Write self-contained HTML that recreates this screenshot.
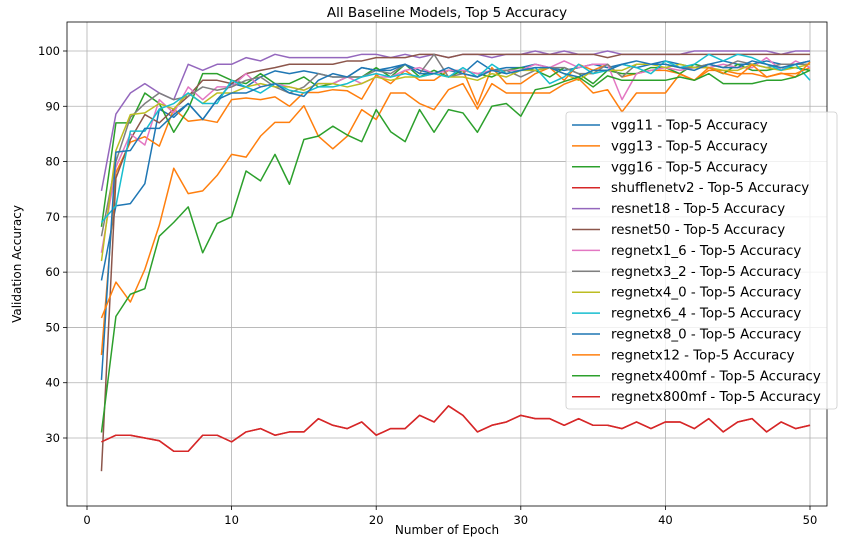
<!DOCTYPE html>
<html><head><meta charset="utf-8"><style>
body{margin:0;background:#fff;}
svg{font-family:"DejaVu Sans","Liberation Sans",sans-serif;}
</style></head><body>
<svg id="chart" width="850" height="545" xmlns="http://www.w3.org/2000/svg"></svg>
<script>
const epochs = Array.from({length:50},(_,i)=>i+1);
const seriesNames = ["vgg11","vgg13","vgg16","shufflenetv2","resnet18","resnet50","regnetx1_6","regnetx3_2","regnetx4_0","regnetx6_4","regnetx8_0","regnetx12","regnetx400mf","regnetx800mf"];
const vgg11 = [58.5,72,72.4,76,89.5,88,90.5,87.6,91.2,94.1,93.5,95.3,96.4,95.9,96.4,95.9,95.3,95.3,97,96.5,97,97.6,96.5,95.9,96.5,95.9,98.2,96.5,97,97,97.6,97,96.5,97,97.6,97,97.6,97,97.6,98.2,97.6,97,97.6,98.2,97.6,97.6,98.2,97.6,97.6,98.2];
const vgg13 = [45,78,83.5,84.5,82.8,89.5,87.3,87.6,87.1,91.2,91.5,91.2,91.7,90,92.5,92.5,93,92.8,91.3,95.7,94.1,96.5,94.7,94.7,96.5,96.5,90.3,97,94.1,94.1,95.9,97,94.7,97.6,96.5,97.6,95.3,95.9,96.5,96.5,95.9,94.7,96.5,96.5,95.9,95.9,95.3,95.9,95.9,97];
const vgg16 = [68.2,87,87,92.4,90.5,85.3,89.5,95.9,95.9,94.7,94.1,95.9,94.1,94.1,95.3,93.5,94.1,95.3,95.3,97,95.3,97.6,95.3,96.5,95.3,96.5,95.9,95.3,96.5,97,96.5,95.3,97,95.9,94.1,96.5,95.9,95.9,97,97,95.9,97.6,97,95.9,97.6,96.5,96.5,97,97,96.5];
const shufflenetv2 = [29.3,30.5,30.5,30,29.5,27.6,27.6,30.5,30.5,29.3,31.1,31.7,30.5,31.1,31.1,33.5,32.3,31.7,32.9,30.5,31.7,31.7,34.1,32.9,35.8,34.1,31.1,32.3,32.9,34.1,33.5,33.5,32.3,33.5,32.3,32.3,31.7,32.9,31.7,32.9,32.9,31.7,33.5,31.1,32.9,33.5,31.1,32.9,31.7,32.3];
const resnet18 = [74.7,88.6,92.4,94.1,92.4,91.2,97.6,96.5,97.6,97.6,98.8,98.2,99.4,98.8,98.8,98.8,98.8,98.8,99.4,99.4,98.8,99.4,98.8,99.4,98.8,99.4,99.4,98.8,99.4,99.4,100,99.4,100,99.4,99.4,100,99.4,99.4,99.4,99.4,99.4,100,100,100,100,100,100,99.4,100,100];
const resnet50 = [24,77,84,88.5,87,89.5,91.8,94.7,94.7,94.1,95.9,96.5,97,97.6,97.6,97.6,97.6,98.2,98.2,98.8,98.8,98.8,99.4,99.4,98.8,99.4,99.4,99.4,99.4,99.4,99.4,99.4,99.4,99.4,99.4,98.8,99.4,99.4,99.4,99.4,99.4,99.4,99.4,99.4,99.4,99.4,99.4,99.4,99.4,99.4];
const regnetx1_6 = [63.5,79,85,83,91.2,88.8,93.5,91.2,93.5,93.5,95.9,93.5,94.1,93.5,92.9,94.1,94.1,95.3,94.1,95.3,95.3,96.5,97,95.9,96.5,96.5,95.9,96.5,96.5,96.5,97.6,97,98.2,97,97.6,97.6,91.2,95.9,96.5,97,96.5,97,97,97.6,97,97,98.8,96.5,98.2,97];
const regnetx3_2 = [66.5,80,88,90.5,92.4,91.2,91.8,93.5,92.9,93.5,94.7,95.3,93.5,92.4,93.5,95.9,95.3,95.3,95.3,96.5,95.9,97.6,95.9,99.4,95.3,95.9,95.3,96.5,96.5,95.3,96.5,97,97,95.9,95.9,97.6,95.3,97.6,97.6,97.6,97,97,97.6,97,98.2,97.6,97,97.6,97.6,97.6];
const regnetx4_0 = [62,82,88.5,88.8,90.5,89.5,92.4,90.5,92.4,92.4,93.5,94.1,93.5,93.5,92.9,94.1,94.1,93.5,94.1,95.3,94.7,95.3,95.3,95.9,95.3,95.3,94.7,95.9,95.3,96.5,96.5,97,95.9,94.7,96.5,96.5,96.5,97.6,97.6,97,97.6,97,97,96.5,96.5,97.6,97,96.5,97,97.6];
const regnetx6_4 = [69,72,85.5,85.5,89.5,90.5,92.4,90.5,90.5,94.7,93.5,92.4,94.1,92.9,92.4,93.5,93.5,94.1,95.3,95.9,95.3,95.9,95.3,95.9,95.3,97,95.3,97.6,95.9,96.5,97,94.1,95.3,97.6,95.9,96.5,97.6,97,95.9,98.2,97,97.6,99.4,98.2,99.4,98.8,97.6,96.5,97.6,94.7];
const regnetx8_0 = [40.5,81.7,82,86,86,88.5,90.5,87.6,91.2,92.4,92.4,93.5,94.1,92.4,91.8,94.7,95.9,95.3,97,96.5,96.5,97.6,95.9,95.9,97,95.9,95.3,96.5,95.9,96.5,97,97,95.9,95.3,96.5,96.5,97.6,98.2,97.6,97.6,97,96.5,97.6,97,97,98.2,97.6,97,97.6,98.2];
const regnetx12 = [51.7,58.2,54.6,60.5,68.5,78.8,74.2,74.7,77.5,81.3,80.8,84.6,87.1,87.1,90.1,84.6,82.3,84.6,89.4,87.6,92.4,92.4,90.5,89.4,93,94.1,89.5,94.1,92.4,92.4,92.4,92.4,94,95,92.4,93,89,92.4,92.4,92.4,95.8,94.7,97,96,95.3,97.5,95.3,96,95.3,98];
const regnetx400mf = [31,52,56,57,66.5,69,71.8,63.5,68.8,70,78.3,76.5,81.3,75.9,84,84.6,86.4,84.8,83.6,89.4,85.4,83.6,89.4,85.3,89.4,88.8,85.3,90,90.5,88.2,93,93.5,94.5,95.3,93.5,95.5,94.7,94.7,94.7,94.7,95.3,94.7,95.9,94.1,94.1,94.1,94.7,94.7,95.3,96.5];
const regnetx800mf = [29.3,30.5,30.5,30,29.5,27.6,27.6,30.5,30.5,29.3,31.1,31.7,30.5,31.1,31.1,33.5,32.3,31.7,32.9,30.5,31.7,31.7,34.1,32.9,35.8,34.1,31.1,32.3,32.9,34.1,33.5,33.5,32.3,33.5,32.3,32.3,31.7,32.9,31.7,32.9,32.9,31.7,33.5,31.1,32.9,33.5,31.1,32.9,31.7,32.3];
const xTicks = [0,10,20,30,40,50];
const yTicks = [30,40,50,60,70,80,90,100];

const allSeries = [vgg11,vgg13,vgg16,shufflenetv2,resnet18,resnet50,regnetx1_6,regnetx3_2,regnetx4_0,regnetx6_4,regnetx8_0,regnetx12,regnetx400mf,regnetx800mf];
const colors = ["#1f77b4","#ff7f0e","#2ca02c","#d62728","#9467bd","#8c564b","#e377c2","#7f7f7f","#bcbd22","#17becf","#1f77b4","#ff7f0e","#2ca02c","#d62728"];
const L=67,R=827,T=22,B=506;
const xs = v => 87 + v*(810-87)/50;
const ys = v => 51 + (100-v)*(438-51)/70;
const svg = document.getElementById('chart');
const NS='http://www.w3.org/2000/svg';
function mk(tag, attrs, parent){const e=document.createElementNS(NS,tag);for(const k in attrs)e.setAttribute(k,attrs[k]);(parent||svg).appendChild(e);return e;}

const grid = mk('g',{});


xTicks.forEach(t=>{
  const g=mk('line',{x1:xs(t),x2:xs(t),y1:T,y2:B,stroke:'#b0b0b0','stroke-width':0.8},grid);
  
  
  const tk=mk('line',{x1:xs(t),x2:xs(t),y1:B,y2:B+4,stroke:'#000','stroke-width':0.8});
  
  
  const tx=mk('text',{x:xs(t),y:B+18,'text-anchor':'middle','font-size':11.5});
  tx.textContent=t;
  
  
});
yTicks.forEach(t=>{
  const g=mk('line',{x1:L,x2:R,y1:ys(t),y2:ys(t),stroke:'#b0b0b0','stroke-width':0.8},grid);
  
  
  const tk=mk('line',{x1:L-4,x2:L,y1:ys(t),y2:ys(t),stroke:'#000','stroke-width':0.8});
  
  
  const tx=mk('text',{x:L-7,y:ys(t)+4,'text-anchor':'end','font-size':11.5});
  tx.textContent=t;
  
  
});

allSeries.forEach((s,i)=>{
  const p=mk('polyline',{points:s.map((v,j)=>xs(epochs[j])+','+ys(v)).join(' '),fill:'none',stroke:colors[i],'stroke-width':1.5,'stroke-linejoin':'round'});
  
  
});

const frame=mk('rect',{x:L,y:T,width:R-L,height:B-T,fill:'none',stroke:'#000','stroke-width':0.8});



const title=mk('text',{x:447,y:17,'text-anchor':'middle','font-size':13.5});
title.textContent='All Baseline Models, Top 5 Accuracy';


const xl=mk('text',{x:447,y:534,'text-anchor':'middle','font-size':12});
xl.textContent='Number of Epoch';


const yl=mk('text',{x:0,y:0,'text-anchor':'middle','font-size':12,transform:'translate(21,264) rotate(-90)'});
yl.textContent='Validation Accuracy';



const leg=mk('g',{});


const lb=mk('rect',{x:566,y:112,width:271,height:297,rx:3,fill:'#fff','fill-opacity':0.8,stroke:'#ccc','stroke-width':0.8},leg);


seriesNames.forEach((n,i)=>{
  const y=125+i*20.9;
  const ln=mk('line',{x1:572,x2:600,y1:y,y2:y,stroke:colors[i],'stroke-width':1.5},leg);
  
  
  const tx=mk('text',{x:611,y:y+4.5,'font-size':13.4},leg);
  tx.textContent=n+' - Top-5 Accuracy';
  
  
});
</script>
</body></html>
